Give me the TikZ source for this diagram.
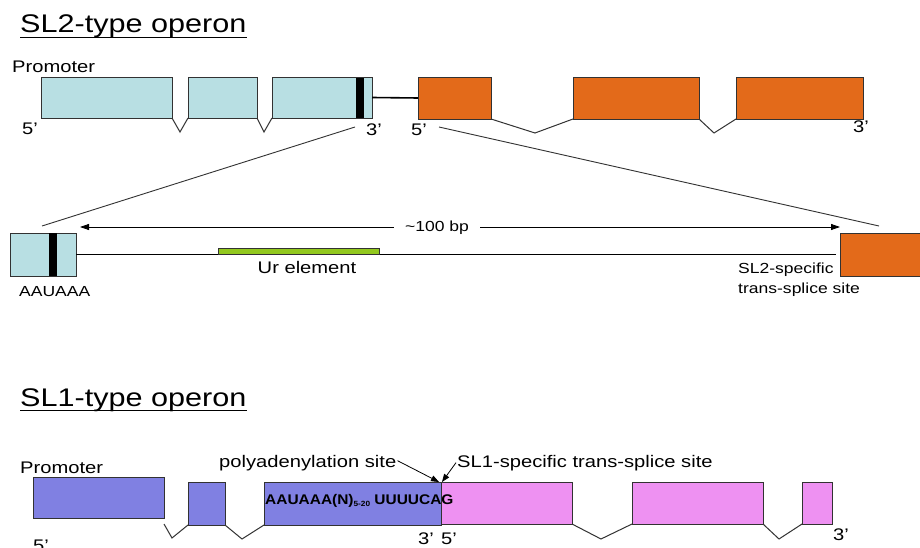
\documentclass[tikz,border=0pt]{standalone}
\usepackage{graphicx}
\usepackage{fontspec}
\setmainfont[FakeStretch=1.2]{Liberation Sans}
\usetikzlibrary{arrows.meta,calc}
\definecolor{lblue}{RGB}{184,223,227}
\definecolor{orng}{RGB}{227,106,26}
\definecolor{purp}{RGB}{128,128,226}
\definecolor{pnk}{RGB}{238,145,242}
\definecolor{urgreen}{RGB}{146,200,30}
\definecolor{edgegray}{RGB}{50,50,50}
\begin{document}
\begin{tikzpicture}[x=1pt,y=-1pt,
  box/.style={draw=edgegray, line width=0.9pt, inner sep=0pt, outer sep=0pt, anchor=north west},
  bluebox/.style={box, fill=lblue},
  orbox/.style={box, fill=orng},
  purbox/.style={box, fill=purp},
  pinkbox/.style={box, fill=pnk},
  blackbar/.style={fill=black, inner sep=0pt, outer sep=0pt, anchor=north west, minimum width=8pt},
  intron/.style={draw=edgegray, line width=1pt},
  zoomline/.style={draw=edgegray, line width=0.9pt},
  thickline/.style={draw=black, line width=1.6pt},
  titletext/.style={inner sep=0pt, anchor=base west, font=\fontsize{25.5}{28}\selectfont},
  lbl/.style={inner sep=0pt, anchor=base west, font=\fontsize{16.8}{18}\selectfont},
  smlbl/.style={inner sep=0pt, anchor=base west, font=\fontsize{14.6}{16}\selectfont},
  arr/.style={draw=black, line width=0.8pt, -{Triangle[length=9pt,width=6pt]}},
]
\useasboundingbox (0,0) rectangle (920,548);
\fill[white] (0,0) rectangle (920,548);
\begin{scope}
\clip (0,0) rectangle (920,548);

% ---------------- SL2-type operon ----------------
\node[titletext] (t1) at (20,33) {SL2-type operon};
\draw[line width=1.6pt] ($(t1.base west)+(0,4.5)$) -- ($(t1.base east)+(0,4.5)$);
\node[lbl] (prom1) at (12,73) {Promoter};

\node[bluebox, minimum width=131pt, minimum height=41pt] (a1) at (41,77) {};
\node[bluebox, minimum width=69pt, minimum height=41pt] (a2) at (188,77) {};
\node[bluebox, minimum width=100pt, minimum height=41pt] (a3) at (272,77) {};
\node[blackbar, minimum height=41pt] (a3bar) at (356,77) {};
\draw[draw=edgegray, line width=0.9pt] (a3.north west) rectangle (a3.south east);

\node[orbox, minimum width=73pt, minimum height=42pt] (o1) at (418,77) {};
\node[orbox, minimum width=126pt, minimum height=42pt] (o2) at (573,77) {};
\node[orbox, minimum width=127pt, minimum height=42pt] (o3) at (736,77) {};

\coordinate (v1) at (180,132);
\coordinate (v2) at (264,132);
\coordinate (v3) at (535,133);
\coordinate (v4) at (714,133);
\draw[intron] (a1.south east) -- (v1) -- (a2.south west);
\draw[intron] (a2.south east) -- (v2) -- (a3.south west);
\draw[intron] (o1.south east) -- (v3) -- (o2.south west);
\draw[intron] (o2.south east) -- (v4) -- (o3.south west);
\draw[thickline] (a3.east) -- (o1.west);

\node[lbl] (f5a) at (22,135) {5’};
\node[lbl] (f3a) at (366,136) {3’};
\node[lbl] (f5b) at (411,136) {5’};
\node[lbl] (f3b) at (853,133) {3’};

% zoom lines
\coordinate (zl1) at (355,127);
\coordinate (zl2) at (42,226);
\coordinate (zr1) at (439,127);
\coordinate (zr2) at (879,226);
\draw[zoomline] (zl1) -- (zl2);
\draw[zoomline] (zr1) -- (zr2);

% expanded region
\node[bluebox, minimum width=66pt, minimum height=43pt] (b1) at (10,233) {};
\node[blackbar, minimum height=43pt] (b1bar) at (49,233) {};
\node[orbox, minimum width=90pt, minimum height=43pt] (ob) at (840,233) {};
\coordinate (lineend) at (836,254.5);
\draw[thickline] (b1.east) -- (lineend);
\node[box, fill=urgreen, draw=edgegray, line width=0.6pt, minimum width=161pt, minimum height=6pt] (ur) at (218,248) {};
\node[inner sep=0pt, anchor=base, font=\fontsize{16.8}{18}\selectfont] (urlbl) at (307,273.5) {Ur element};
\node[smlbl] (aauaaa) at (19,296.5) {AAUAAA};
\node[smlbl] (sl2a) at (738,273) {SL2-specific};
\node[smlbl] (sl2b) at (738,293.5) {trans-splice site};

\node[inner sep=0pt, inner xsep=11pt, anchor=base, font=\fontsize{14.6}{16}\selectfont] (bp) at (437,231) {\textasciitilde100 bp};
\coordinate (la) at (80,227);
\coordinate (ra) at (840,227);
\draw[arr] (la -| bp.west) -- (la);
\draw[arr] (ra -| bp.east) -- (ra);

% ---------------- SL1-type operon ----------------
\node[titletext] (t2) at (20,406) {SL1-type operon};
\draw[line width=1.6pt] ($(t2.base west)+(0,4.5)$) -- ($(t2.base east)+(0,4.5)$);
\node[lbl] (prom2) at (20,473) {Promoter};

\node[purbox, minimum width=131pt, minimum height=41pt] (p1) at (33,477) {};
\node[purbox, minimum width=37pt, minimum height=43pt] (p2) at (188,482) {};
\node[purbox, minimum width=177pt, minimum height=43pt] (p3) at (264,482) {};
\node[pinkbox, minimum width=131pt, minimum height=42pt] (k1) at (441,482) {};
\node[pinkbox, minimum width=131pt, minimum height=42pt] (k2) at (632,482) {};
\node[pinkbox, minimum width=30pt, minimum height=42pt] (k3) at (802,482) {};

\coordinate (w1) at (172,538);
\coordinate (w2) at (242,539);
\coordinate (w3) at (601,539);
\coordinate (w4) at (779,539);
\draw[intron] ($(p1.south east)+(0,6)$) -- (w1) -- (p2.south west);
\draw[intron] (p2.south east) -- (w2) -- (p3.south west);
\draw[intron] (k1.south east) -- (w3) -- (k2.south west);
\draw[intron] (k2.south east) -- (w4) -- (k3.south west);

\node[inner sep=0pt, anchor=base west, font=\bfseries\fontsize{14}{15}\selectfont] (seq) at (265,504)
  {\scalebox{0.92}[1]{AAUAAA(N)\raisebox{-2pt}{\fontsize{7.5}{8}\selectfont 5-20} UUUUCAG}};

\node[lbl] (g3a) at (418,544) {3’};
\node[lbl] (g5a) at (441,544) {5’};
\node[lbl] (g3b) at (833,540) {3’};
\node[lbl] (g5b) at (33,551) {5’};

\node[lbl] (poly) at (219,467) {polyadenylation site};
\node[lbl] (sl1) at (457,467) {SL1-specific trans-splice site};
\coordinate (polytip) at (439,482);
\coordinate (sl1tip) at (442,482);
\draw[draw=black, line width=0.8pt, -{Triangle[length=8pt,width=6pt]}] (poly.east) ++(1,-2) -- (polytip);
\draw[draw=black, line width=0.8pt, -{Triangle[length=8pt,width=6pt]}] (sl1.west) ++(-1,0) -- (sl1tip);
\end{scope}
\end{tikzpicture}
\end{document}
